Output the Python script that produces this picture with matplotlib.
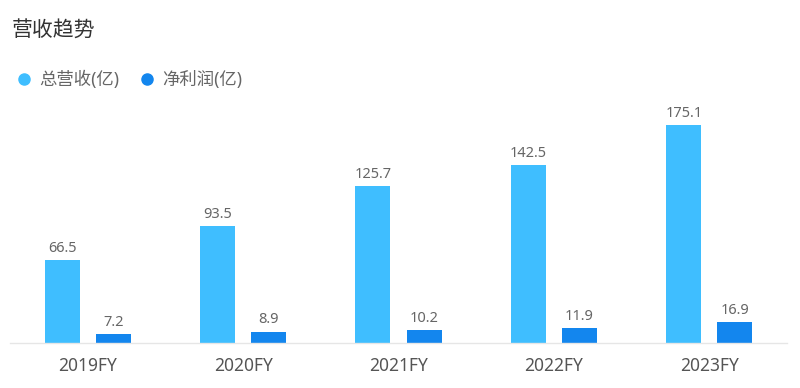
import matplotlib.pyplot as plt
from matplotlib.lines import Line2D
import numpy as np

plt.rcParams['font.family'] = ['Noto Sans', 'Noto Sans CJK SC', 'DejaVu Sans']

# data
years = ['2019FY', '2020FY', '2021FY', '2022FY', '2023FY']
revenue = [66.5, 93.5, 125.7, 142.5, 175.1]
profit = [7.2, 8.9, 10.2, 11.9, 16.9]
series_names = ['总营收(亿)', '净利润(亿)']

c_rev = '#3fbeff'
c_pro = '#1386ee'
txt_grey = '#666666'

fig = plt.figure(figsize=(8, 3.88), dpi=100)
ax = fig.add_axes([10/800, 45.3/388, 777/800, 248.8/388])

x = np.arange(len(years))
w = 0.226
off = 0.1645
b1 = ax.bar(x - off, revenue, w, color=c_rev)
b2 = ax.bar(x + off, profit, w, color=c_pro)

for bars, vals in ((b1, revenue), (b2, profit)):
    for rect, v in zip(bars, vals):
        ax.annotate(f'{v}', (rect.get_x() + rect.get_width()/2, rect.get_height()),
                    xytext=(0, 3), textcoords='offset points',
                    ha='center', va='bottom', fontsize=10.5, color=txt_grey)

ax.set_xlim(-0.5, len(years) - 0.5)
ax.set_ylim(0, 200)
ax.set_xticks(x)
ax.set_xticklabels(years, fontsize=12.5, color='#555555')
ax.tick_params(axis='x', length=0, pad=10)
ax.set_yticks([])
for s in ['top', 'right', 'left']:
    ax.spines[s].set_visible(False)
ax.spines['bottom'].set_color('#e6e6e6')
ax.spines['bottom'].set_linewidth(1)

fig.text(12/800, 1 - 31/388, '营收趋势', fontsize=15, color='#333333',
         ha='left', va='center', family=['Noto Sans CJK SC', 'DejaVu Sans'])

handles = [Line2D([], [], marker='o', linestyle='none', markersize=8, color=c)
           for c in (c_rev, c_pro)]
leg = fig.legend(handles, series_names, loc='center left',
                 bbox_to_anchor=(8/800, 1 - 80/388), ncol=2, frameon=False,
                 handlelength=1.0, handletextpad=0.4, columnspacing=1.1,
                 fontsize=12.5, borderaxespad=0)
for t in leg.get_texts():
    t.set_color(txt_grey)

fig.savefig('out.png', dpi=100)
